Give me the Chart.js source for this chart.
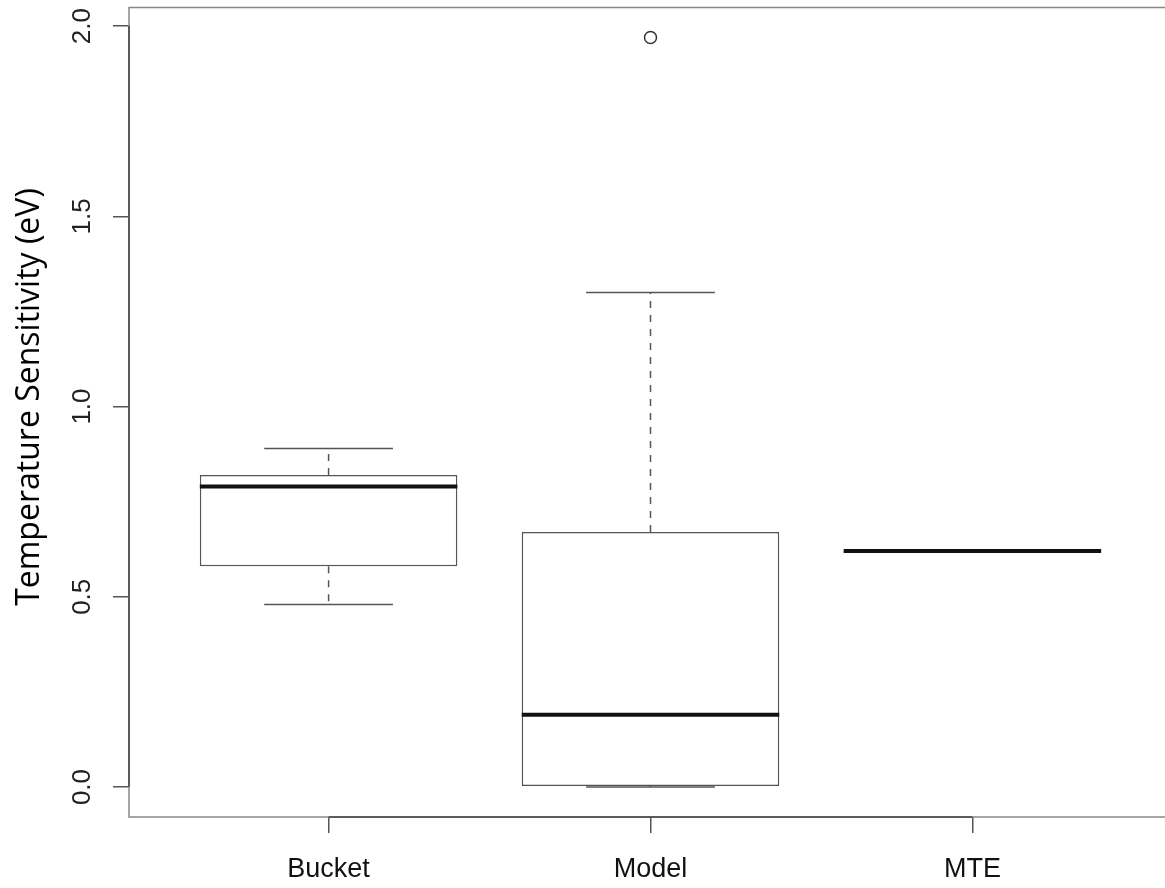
<!DOCTYPE html>
<html>
<head>
<meta charset="utf-8">
<script src="https://cdn.jsdelivr.net/npm/chart.js@4.4.1/dist/chart.umd.min.js"></script>
<style>
  html, body { margin: 0; padding: 0; background: #fff; overflow: hidden; }
  canvas { display: block; }
</style>
</head>
<body>
<canvas id="box" width="1180" height="888"></canvas>
<script>
// 箱线图数据
const categories = ['Bucket', 'Model', 'MTE'];
const whiskerLow = [0.48, 0.0, 0.62];
const q1 = [0.58, 0.003, 0.62];
const median = [0.79, 0.19, 0.62];
const q3 = [0.82, 0.67, 0.62];
const whiskerHigh = [0.89, 1.30, 0.62];
const outliers = [[], [1.97], []];
const yTicks = [0.0, 0.5, 1.0, 1.5, 2.0];
const yTitle = 'Temperature Sensitivity (eV)';

const BOX_W = 0.8;   // 箱体宽度（x 单位）
const CAP_W = 0.4;   // 须线端宽度
const LINE = '#555';

// 一条线段的数据集
function segment(x0, x1, y0, y1, width, color, dash) {
    return {
        type: 'line',
        data: [{ x: x0, y: y0 }, { x: x1, y: y1 }],
        borderColor: color,
        borderWidth: width,
        borderDash: dash || [],
        pointRadius: 0,
        fill: false,
        order: 1
    };
}

const datasets = [];

// 中位数（最上层）
categories.forEach((c, i) => {
    const x = i + 1;
    datasets.push(Object.assign(segment(x - BOX_W / 2, x + BOX_W / 2, median[i], median[i], 4, '#111'), { order: 0 }));
});

// 须线和端线
categories.forEach((c, i) => {
    const x = i + 1;
    datasets.push(segment(x, x, q3[i], whiskerHigh[i], 1.5, LINE, [7, 7]));
    datasets.push(segment(x, x, q1[i], whiskerLow[i], 1.5, LINE, [7, 7]));
    datasets.push(segment(x - CAP_W / 2, x + CAP_W / 2, whiskerHigh[i], whiskerHigh[i], 1.5, LINE));
    datasets.push(segment(x - CAP_W / 2, x + CAP_W / 2, whiskerLow[i], whiskerLow[i], 1.5, LINE));
});

// 异常值
const outlierPoints = [];
outliers.forEach((list, i) => list.forEach(v => outlierPoints.push({ x: i + 1, y: v })));
datasets.push({
    type: 'scatter',
    data: outlierPoints,
    pointStyle: 'circle',
    pointRadius: 6,
    borderColor: '#333',
    borderWidth: 1.5,
    backgroundColor: 'rgba(0,0,0,0)',
    order: 1
});

// 箱体（浮动柱）
datasets.push({
    type: 'bar',
    data: categories.map((c, i) => ({ x: i + 1, y: [q1[i], q3[i]] })),
    backgroundColor: '#fff',
    borderColor: LINE,
    borderWidth: 1.5,
    borderSkipped: false,
    barPercentage: BOX_W,
    categoryPercentage: 1.0,
    order: 5
});

// 边框、坐标轴线、旋转的 y 轴标签
const framePlugin = {
    id: 'frame',
    afterDraw(chart) {
        const ctx = chart.ctx;
        const a = chart.chartArea;
        const xs = chart.scales.x;
        const ys = chart.scales.y;
        ctx.save();
        ctx.strokeStyle = '#888';
        ctx.lineWidth = 1.5;
        ctx.strokeRect(a.left, a.top, a.right - a.left, a.bottom - a.top);

        ctx.strokeStyle = '#444';
        ctx.beginPath();
        ctx.moveTo(xs.getPixelForValue(1), a.bottom);
        ctx.lineTo(xs.getPixelForValue(categories.length), a.bottom);
        ctx.moveTo(a.left, ys.getPixelForValue(yTicks[0]));
        ctx.lineTo(a.left, ys.getPixelForValue(yTicks[yTicks.length - 1]));
        ctx.stroke();

        ctx.fillStyle = '#222';
        ctx.font = '26px "Liberation Sans", Arial, sans-serif';
        ctx.textAlign = 'center';
        ctx.textBaseline = 'alphabetic';
        yTicks.forEach(v => {
            ctx.save();
            ctx.translate(90, ys.getPixelForValue(v));
            ctx.rotate(-Math.PI / 2);
            ctx.fillText(v.toFixed(1), 0, 0);
            ctx.restore();
        });

        ctx.fillStyle = '#000';
        ctx.font = '32px "Open Sans", sans-serif';
        ctx.translate(39, 397);
        ctx.rotate(-Math.PI / 2);
        ctx.fillText(yTitle, 0, 0);
        ctx.restore();
    }
};

document.addEventListener('DOMContentLoaded', function() {
    const ctx = document.getElementById('box').getContext('2d');
    window.boxChart = new Chart(ctx, {
        type: 'bar',
        data: { datasets: datasets },
        options: {
            responsive: false,
            animation: false,
            devicePixelRatio: 1,
            layout: { padding: { top: 7, right: 8, left: 0, bottom: 0 } },
            plugins: {
                legend: { display: false },
                tooltip: { enabled: false }
            },
            scales: {
                x: {
                    type: 'linear',
                    min: 0.38,
                    max: 3.62,
                    offset: false,
                    border: { display: false },
                    grid: { display: true, offset: false, drawOnChartArea: false, drawTicks: true, tickLength: 16, color: '#555', lineWidth: 1.5 },
                    ticks: {
                        autoSkip: false,
                        maxRotation: 0,
                        padding: 20,
                        color: '#111',
                        font: { family: '"Liberation Sans", Arial, sans-serif', size: 27 },
                        callback: (v, i) => categories[i]
                    },
                    afterBuildTicks: s => { s.ticks = categories.map((c, i) => ({ value: i + 1 })); },
                    afterFit: s => { s.height = 71; }
                },
                y: {
                    type: 'linear',
                    min: -0.0788,
                    max: 2.0488,
                    border: { display: false },
                    grid: { display: true, drawOnChartArea: false, drawTicks: true, tickLength: 16, color: '#555', lineWidth: 1.5 },
                    ticks: { display: false },
                    afterBuildTicks: s => { s.ticks = yTicks.map(v => ({ value: v })); },
                    afterFit: s => { s.width = 129; }
                }
            }
        },
        plugins: [framePlugin]
    });
});
</script>
</body>
</html>
